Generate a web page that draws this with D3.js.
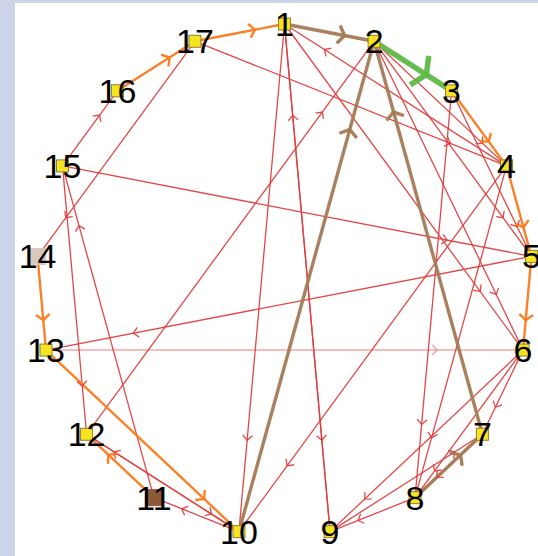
<!DOCTYPE html>
<meta charset="utf-8">
<script src="https://d3js.org/d3.v7.min.js"></script>
<style>
  body { margin: 0; background: #cdd3e8; overflow: hidden; }
</style>
<div id="graph"></div>
<script>
  var width = 538, height = 556;

  // nodes, clockwise round the circle starting at the top
  const nodeNames = ["1","2","3","4","5","6","7","8","9","10","11","12","13","14","15","16","17"];
  // marker group of each node (0 = pale, 1 = normal, 2 = dark)
  const nodeGroups = [1,1,1,1,1,1,1,1,1,1,2,1,1,0,1,1,1];

  // directed edges: from, to and weight class
  // 1 = faint red, 2 = red, 3 = orange, 4 = brown, 5 = green
  const edgeFrom = ["13","17","17","1","1","9","1","4","12","2","2","2","15","5","15","11","10","10","12","4","3","4","6","7","6","6","8","9","3",
                    "15","16","17","14","13","11","3","4","5","10","7","8","1","2"];
  const edgeTo   = ["6","14","4","10","9","1","6","1","2","4","5","6","5","13","12","15","11","12","10","10","8","8","8","8","7","9","9","7","5",
                    "16","17","1","13","10","12","4","5","6","2","2","7","2","3"];
  const edgeWeight = [1,2,2,2,2,2,2,2,2,2,2,2,2,2,2,2,2,2,2,2,2,2,2,2,2,2,2,2,2,
                      2,3,3,3,3,3,3,3,3,4,4,4,4,5];

  var svg = d3.select("#graph")
    .append("svg")
      .attr("width", width)
      .attr("height", height);

  // white plot panel
  svg.append("rect")
    .attr("x", 15).attr("y", 3)
    .attr("width", width - 15).attr("height", height - 3)
    .attr("fill", "white");

  // circular layout
  var cx = 284.5, cy = 280, rx = 248, ry = 256;
  var angle = d3.scaleLinear().domain([0, nodeNames.length]).range([0, 2 * Math.PI]);
  var pos = {};
  nodeNames.forEach(function(n, i) {
    pos[n] = [cx + rx * Math.sin(angle(i)), cy - ry * Math.cos(angle(i))];
  });

  var edgeColor = d3.scaleOrdinal().domain([1,2,3,4,5])
    .range(["#ef8a8a", "#e23d3d", "#fb7a1e", "#a47a55", "#5db947"]);
  var edgeWidth = d3.scaleOrdinal().domain([1,2,3,4,5]).range([1.4, 1.3, 2.4, 3.4, 5.5]);
  var arrowSize = d3.scaleOrdinal().domain([1,2,3,4,5]).range([7, 7, 9, 11, 19]);
  var arrowAngle = d3.scaleOrdinal().domain([1,2,3,4,5]).range([45, 45, 50, 55, 65]);

  var edges = edgeFrom.map(function(f, i) {
    return {from: f, to: edgeTo[i], w: edgeWeight[i]};
  });

  var g = svg.append("g");

  g.selectAll("line.edge")
    .data(edges)
    .join("line")
      .attr("class", "edge")
      .attr("x1", d => pos[d.from][0])
      .attr("y1", d => pos[d.from][1])
      .attr("x2", d => pos[d.to][0])
      .attr("y2", d => pos[d.to][1])
      .attr("stroke", d => edgeColor(d.w))
      .attr("stroke-width", d => edgeWidth(d.w))
      .attr("stroke-opacity", d => d.w == 1 ? 0.75 : 0.95);

  // chevron arrows part way along each edge
  function arrowPath(d) {
    var a = pos[d.from], b = pos[d.to];
    var dx = b[0] - a[0], dy = b[1] - a[1];
    var len = Math.sqrt(dx * dx + dy * dy);
    var t = 1 - Math.max(0.18, 30 / len);
    var px = a[0] + dx * t, py = a[1] + dy * t;
    var ux = dx / len, uy = dy / len;
    var s = arrowSize(d.w), th = arrowAngle(d.w) * Math.PI / 180;
    var c = Math.cos(th), sn = Math.sin(th);
    var l1 = [px - s * (ux * c - uy * sn), py - s * (uy * c + ux * sn)];
    var l2 = [px - s * (ux * c + uy * sn), py - s * (uy * c - ux * sn)];
    return "M" + l1 + "L" + px + "," + py + "L" + l2;
  }

  g.selectAll("path.arrow")
    .data(edges)
    .join("path")
      .attr("class", "arrow")
      .attr("d", arrowPath)
      .attr("fill", "none")
      .attr("stroke", d => edgeColor(d.w))
      .attr("stroke-width", d => edgeWidth(d.w))
      .attr("stroke-opacity", d => d.w == 1 ? 0.75 : 0.95);

  // node markers
  var nodeFill = d3.scaleOrdinal().domain([0,1,2]).range(["#d9c8bc", "#f3e51f", "#8a5a3a"]);
  var nodeStroke = d3.scaleOrdinal().domain([0,1,2]).range(["#d9c8bc", "#9a7a2a", "#8a5a3a"]);
  var ms = 12;
  svg.selectAll("rect.node")
    .data(nodeNames)
    .join("rect")
      .attr("class", "node")
      .attr("x", (d, i) => pos[d][0] - (nodeGroups[i] == 1 ? ms : ms + 4) / 2)
      .attr("y", (d, i) => pos[d][1] - (nodeGroups[i] == 1 ? ms : ms + 4) / 2)
      .attr("width", (d, i) => nodeGroups[i] == 1 ? ms : ms + 4)
      .attr("height", (d, i) => nodeGroups[i] == 1 ? ms : ms + 4)
      .attr("fill", (d, i) => nodeFill(nodeGroups[i]))
      .attr("stroke", (d, i) => nodeStroke(nodeGroups[i]))
      .attr("stroke-width", 1);

  svg.selectAll("text.label")
    .data(nodeNames)
    .join("text")
      .attr("class", "label")
      .attr("x", d => pos[d][0])
      .attr("y", d => pos[d][1] + 12)
      .attr("text-anchor", "middle")
      .style("font-family", "Liberation Sans, Arial, sans-serif")
      .style("font-size", "34px")
      .attr("fill", "black")
      .text(d => d);
</script>
